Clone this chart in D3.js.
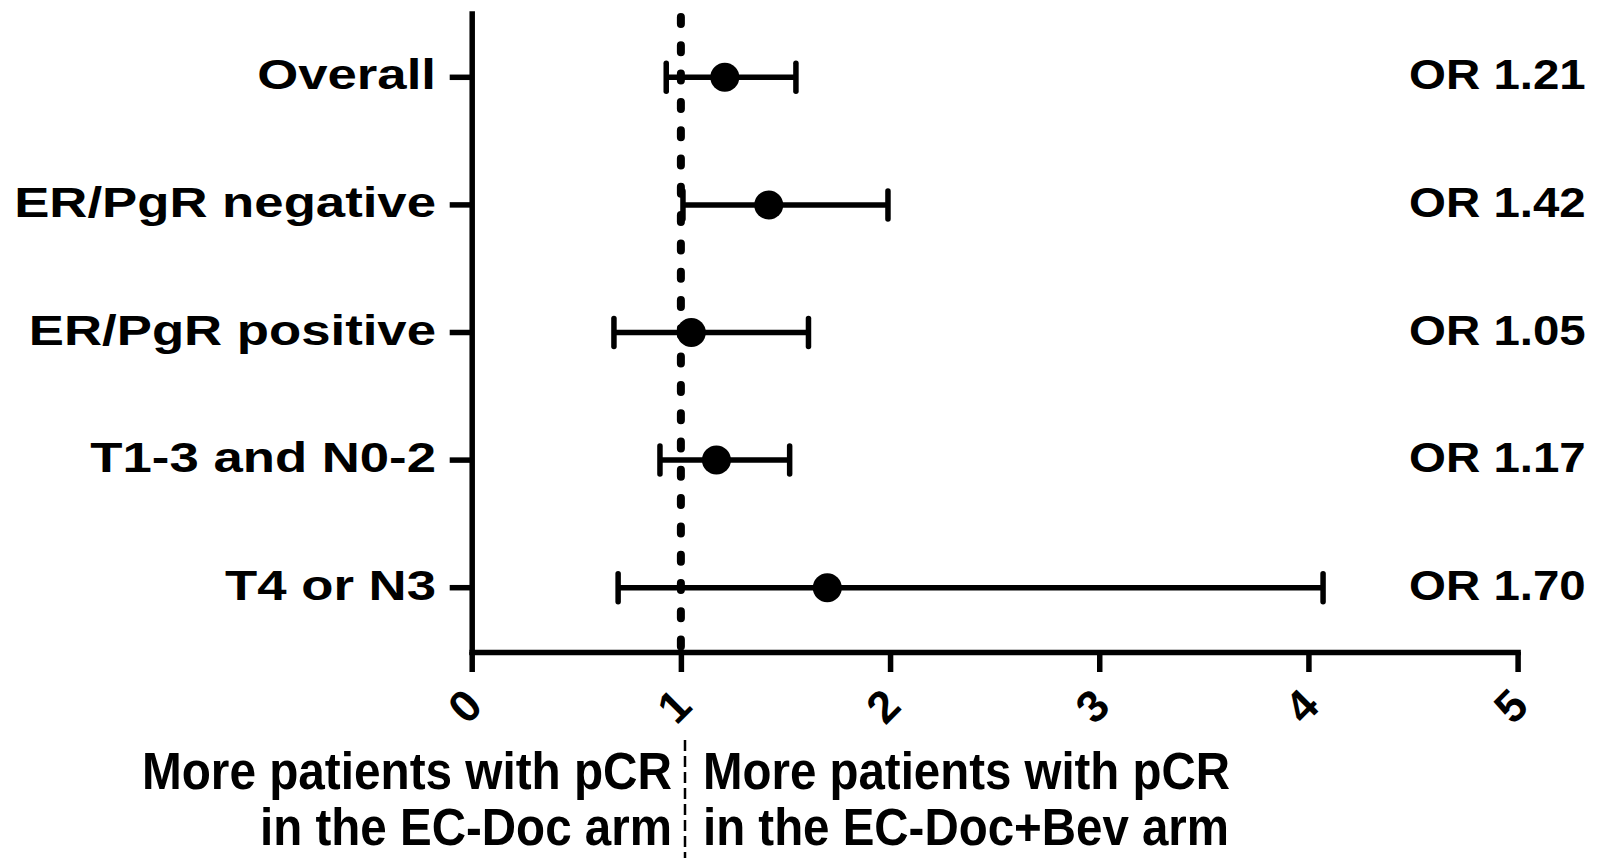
<!DOCTYPE html>
<html>
<head>
<meta charset="utf-8">
<script src="https://cdnjs.cloudflare.com/ajax/libs/d3/7.8.5/d3.min.js"></script>
<style>
	body { margin: 0; background: #fff; }
	svg { display: block; background: #fff; }
	text { font-family: "Liberation Sans", Arial, Helvetica, sans-serif; font-weight: bold; fill: #000; }
</style>
</head>
<body>
<div id="chart"></div>
<script>
//------------------------------------------------------------------------------
// Data (odds ratios for pCR, EC-Doc+Bev vs EC-Doc)
//------------------------------------------------------------------------------

var categories = ["Overall", "ER/PgR negative", "ER/PgR positive", "T1-3 and N0-2", "T4 or N3"];
var odds_ratios = [1.21, 1.42, 1.05, 1.17, 1.70];
var ci_lower = [0.93, 1.01, 0.68, 0.90, 0.70];
var ci_upper = [1.55, 1.99, 1.61, 1.52, 4.07];
var or_labels = ["OR 1.21", "OR 1.42", "OR 1.05", "OR 1.17", "OR 1.70"];
var x_ticks = [0, 1, 2, 3, 4, 5];
var reference_value = 1;
var favour_left = ["More patients with pCR", "in the EC-Doc arm"];
var favour_right = ["More patients with pCR", "in the EC-Doc+Bev arm"];


//------------------------------------------------------------------------------
// Helpers
//------------------------------------------------------------------------------

// stretch a text element horizontally, keep its right (or left) edge in place
function stretch_text(node, factor, anchor_x, align) {
	var w = node.getComputedTextLength() * factor;
	var x0 = align == "end" ? anchor_x - w : anchor_x;
	d3.select(node)
		.attr("x", x0)
		.attr("textLength", w)
		.attr("lengthAdjust", "spacingAndGlyphs");
}

// fit a text element to a given width
function fit_text(node, width, anchor_x, align) {
	var x0 = align == "end" ? anchor_x - width : anchor_x;
	d3.select(node)
		.attr("x", x0)
		.attr("textLength", width)
		.attr("lengthAdjust", "spacingAndGlyphs");
}


//------------------------------------------------------------------------------
// Plotting
//------------------------------------------------------------------------------

function plot_forest() {
	var width = 1597, height = 858;
	var line_w = 5.5;

	var svg = d3.select("#chart")
		.append("svg")
		.attr("width", width)
		.attr("height", height);

	var x = d3.scaleLinear()
		.domain([0, 5])
		.range([471.7, 1517.6]);

	var y = d3.scaleBand()
		.domain(categories)
		.range([13.5, 651.5]);

	var yc = function(c) { return y(c) + y.bandwidth() / 2; };

	// x axis
	var x_axis = d3.axisBottom(x)
		.tickValues(x_ticks)
		.tickSize(20)
		.tickSizeOuter(0)
		.tickFormat("");

	svg.append("g")
		.attr("transform", "translate(0,652)")
		.call(x_axis);

	// y axis
	var y_axis = d3.axisLeft(y)
		.tickSize(22)
		.tickSizeOuter(0)
		.tickFormat("");

	svg.append("g")
		.attr("transform", "translate(471.7,0)")
		.call(y_axis);

	svg.selectAll(".domain")
		.attr("stroke", "#000")
		.attr("stroke-width", line_w)
		.attr("stroke-linecap", "square");
	svg.selectAll(".tick line")
		.attr("stroke", "#000")
		.attr("stroke-width", line_w);

	// rotated x tick labels
	svg.append("g").selectAll("text")
		.data(x_ticks)
		.join("text")
		.attr("text-anchor", "middle")
		.attr("dy", "0.35em")
		.attr("font-size", 45)
		.attr("transform", function(d) {
			return "translate(" + (x(d) - 7) + ",706) rotate(-45)";
		})
		.text(function(d) { return d; });

	// category labels
	svg.append("g").selectAll("text")
		.data(categories)
		.join("text")
		.attr("y", function(d) { return yc(d) + 12; })
		.attr("font-size", 42)
		.text(function(d) { return d; })
		.each(function() { stretch_text(this, 1.255, 436, "end"); });

	// reference line at OR = 1
	svg.append("line")
		.attr("x1", x(reference_value))
		.attr("x2", x(reference_value))
		.attr("y1", 17)
		.attr("y2", 652)
		.attr("stroke", "#000")
		.attr("stroke-width", 8)
		.attr("stroke-linecap", "round")
		.attr("stroke-dasharray", "7,21.3");

	// confidence intervals
	var rows = categories.map(function(c, i) {
		return {cat: c, or: odds_ratios[i], lo: ci_lower[i], hi: ci_upper[i], label: or_labels[i]};
	});

	var g = svg.append("g");

	g.selectAll(".ci")
		.data(rows)
		.join("line")
		.attr("class", "ci")
		.attr("x1", function(d) { return x(d.lo); })
		.attr("x2", function(d) { return x(d.hi); })
		.attr("y1", function(d) { return yc(d.cat); })
		.attr("y2", function(d) { return yc(d.cat); })
		.attr("stroke", "#000")
		.attr("stroke-width", line_w);

	["lo", "hi"].forEach(function(k) {
		g.selectAll(".cap_" + k)
			.data(rows)
			.join("line")
			.attr("class", "cap_" + k)
			.attr("x1", function(d) { return x(d[k]); })
			.attr("x2", function(d) { return x(d[k]); })
			.attr("y1", function(d) { return yc(d.cat) - 14; })
			.attr("y2", function(d) { return yc(d.cat) + 14; })
			.attr("stroke", "#000")
			.attr("stroke-width", line_w)
			.attr("stroke-linecap", "round");
	});

	g.selectAll(".pt")
		.data(rows)
		.join("circle")
		.attr("class", "pt")
		.attr("cx", function(d) { return x(d.or); })
		.attr("cy", function(d) { return yc(d.cat); })
		.attr("r", 14.5)
		.attr("fill", "#000");

	// OR labels on the right
	g.selectAll(".orlab")
		.data(rows)
		.join("text")
		.attr("class", "orlab")
		.attr("y", function(d) { return yc(d.cat) + 12; })
		.attr("font-size", 42)
		.text(function(d) { return d.label; })
		.each(function() { stretch_text(this, 1.13, 1409, "start"); });

	// favours annotation below the axis
	var left_w = [530, 412], right_w = [527, 526];
	var base_y = [789, 845];

	svg.append("line")
		.attr("x1", 685)
		.attr("x2", 685)
		.attr("y1", 740)
		.attr("y2", 858)
		.attr("stroke", "#000")
		.attr("stroke-width", 2.5)
		.attr("stroke-dasharray", "11,5");

	favour_left.forEach(function(t, i) {
		svg.append("text")
			.attr("y", base_y[i])
			.attr("font-size", 51)
			.text(t)
			.each(function() { fit_text(this, left_w[i], 672, "end"); });
	});

	favour_right.forEach(function(t, i) {
		svg.append("text")
			.attr("y", base_y[i])
			.attr("font-size", 51)
			.text(t)
			.each(function() { fit_text(this, right_w[i], 703, "start"); });
	});
}


//------------------------------------------------------------------------------
// Main
//------------------------------------------------------------------------------

function main() {
	plot_forest();
}

if (window.addEventListener) {
	window.addEventListener('load', main, false);
} else {
	window.attachEvent('onload', main);
}
</script>
</body>
</html>
